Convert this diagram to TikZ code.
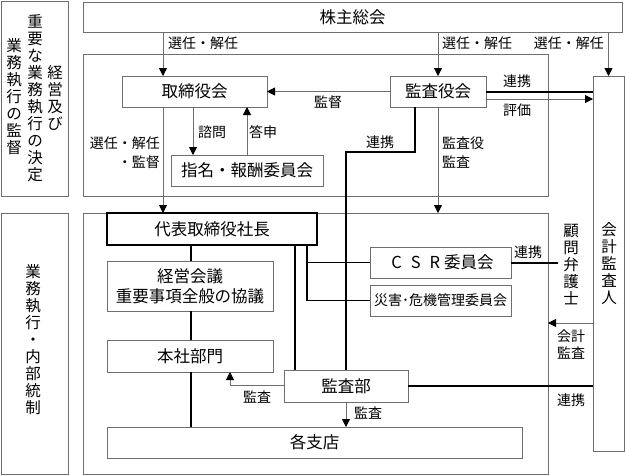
\documentclass[tikz,border=0pt]{standalone}
\usepackage{fontspec}
\setmainfont{Noto Sans CJK JP}
\usetikzlibrary{arrows.meta,calc}
\definecolor{lg}{RGB}{110,110,110}
\begin{document}
\begin{tikzpicture}[x=1pt,y=-1pt,
  ln/.style={draw=lg, line width=0.8pt},
  grp/.style={ln, inner sep=0pt, outer sep=0pt},
  box/.style={ln, inner sep=0pt, outer sep=0pt, fill=white, align=center, font=\fontsize{16.5}{20}\selectfont},
  tbox/.style={box, draw=black, line width=1.8pt},
  lbl/.style={inner sep=0pt, font=\fontsize{14}{19}\selectfont},
  vt/.style={inner sep=0pt, align=center, font=\fontsize{15.5}{17}\selectfont},
  arr/.style={ln, -{Triangle[length=8pt,width=8pt,black]}},
  thk/.style={draw=black, line width=2pt},
  med/.style={draw=black, line width=1.6pt}]
\useasboundingbox (0,0) rectangle (625,475);
% coordinates
\foreach \n/\v in {163/163,193/193,247/247,415/415,346/346,191/191,295/295,307/307,230/230,558/558}
  \coordinate (x\n) at (\v,0);
\foreach \n/\v in {99/99,152/152,385/385,323/323}
  \coordinate (y\n) at (0,\v);
% side label boxes
\node[grp, minimum width=67pt, minimum height=195pt] (leftA) at (34.5,98.5) {};
\node[grp, minimum width=67pt, minimum height=261pt] (leftB) at (34.5,343.5) {};
\node[vt] (t1) at (55,98) {経\\営\\及\\び};
\node[vt] (t2) at (35,98) {重\\要\\な\\業\\務\\執\\行\\の\\決\\定};
\node[vt] (t3) at (14,97) {業\\務\\執\\行\\の\\監\\督};
\node[vt] (t4) at (33,340) {業\\務\\執\\行\\・\\内\\部\\統\\制};
% group boxes
\node[grp, minimum width=465pt, minimum height=142pt] (g1) at (315.5,125) {};
\node[grp, minimum width=465pt, minimum height=261pt] (g2) at (315.5,343.5) {};
% boxes
\node[box, minimum width=539pt, minimum height=30pt] (sh) at (352.5,17) {株主総会};
\node[box, minimum width=145pt, minimum height=31pt] (tori) at (194.5,91.5) {取締役会};
\node[box, minimum width=96pt, minimum height=31pt] (kansa) at (438,91.5) {監査役会};
\node[box, minimum width=152pt, minimum height=31pt] (shimei) at (247,170.5) {指名・報酬委員会};
\node[box, minimum width=31pt, minimum height=375pt] (kaikei) at (608.5,263.5) {};
\node[vt] (t5) at (609,264) {会\\計\\監\\査\\人};
\node[vt] (t6) at (571,265) {顧\\問\\弁\\護\\士};
\node[tbox, minimum width=210pt, minimum height=32pt] (daihyo) at (212,229) {代表取締役社長};
\node[box, minimum width=166pt, minimum height=50pt] (keiei) at (190,286) {経営会議\\重要事項全般の協議};
\node[box, minimum width=166pt, minimum height=32pt] (honsha) at (190,356) {本社部門};
\node[box, minimum width=415pt, minimum height=31pt] (kaku) at (314.5,442.5) {各支店};
\node[box, minimum width=124pt, minimum height=32pt] (kansabu) at (346,386) {監査部};
\node[box, minimum width=141pt, minimum height=31pt] (csr) at (440.5,262.5) {\makebox[19pt]{C}\makebox[19pt]{S}\makebox[19pt]{R}委員会};
\node[box, minimum width=141pt, minimum height=31pt, font=\fontsize{14}{17}\selectfont] (saigai) at (440.5,300.5) {災害･危機管理委員会};
% connectors
\draw[arr] (x163 |- sh.south) -- (x163 |- tori.north);
\node[lbl, anchor=west] (l1) at (168,43) {選任・解任};
\draw[arr] (kansa.north |- sh.south) -- (kansa.north);
\node[lbl, anchor=west] (l2) at (442,43) {選任・解任};
\draw[arr] (kaikei.north |- sh.south) -- (kaikei.north);
\node[lbl, anchor=east] (l3) at (604,43) {選任・解任};
\draw[arr] (kansa.west) -- (tori.east);
\node[lbl] (l4) at (328,102) {監督};
\draw[thk] (kansa.east) -- (kansa.east -| kaikei.west);
\node[lbl] (l5) at (517,81) {連携};
\draw[arr] (kansa.east |- y99) -- (kaikei.west |- y99);
\node[lbl] (l6) at (517,110) {評価};
\draw[arr] (x193 |- tori.south) -- (x193 |- shimei.north);
\node[lbl] (l7) at (212,132) {諮問};
\draw[arr] (x247 |- shimei.north) -- (x247 |- tori.south);
\node[lbl] (l8) at (263,132) {答申};
\draw[arr] (x163 |- tori.south) -- (x163 |- daihyo.north);
\node[lbl, anchor=east, align=right] (l9) at (160,153) {選任・解任\\・監督};
\draw[thk] (x415 |- kansa.south) |- (x346 |- y152) -- (x346 |- kansabu.north);
\node[lbl] (l10) at (380,142) {連携};
\draw[arr] (kansa.south) -- (kansa.south |- g2.north);
\node[lbl, anchor=west, align=left] (l11) at (442,153) {監査役\\監査};
\draw[med] (x191 |- daihyo.south) -- (x191 |- keiei.north);
\draw[med] (x191 |- keiei.south) -- (x191 |- honsha.north);
\draw[med] (x191 |- honsha.south) -- (x191 |- kaku.north);
\draw[med] (x295 |- daihyo.south) -- (x295 |- kansabu.north);
\draw[med] (x307 |- daihyo.south) |- (saigai.west);
\draw[med] (x307 |- csr.west) -- (csr.west);
\draw[arr] (kansabu.west |- y385) -| (x230 |- honsha.south);
\node[lbl] (l12) at (257,397) {監査};
\draw[arr] (x346 |- kansabu.south) -- (x346 |- kaku.north);
\node[lbl, anchor=west] (l13) at (354,413) {監査};
\draw[thk] (kansabu.east) -- (kansabu.east -| kaikei.west);
\node[lbl] (l14) at (571,400) {連携};
\draw[thk] (csr.east) -- (x558 |- csr.east);
\node[lbl] (l15) at (528,252) {連携};
\draw[arr] (kaikei.west |- y323) -- (g2.east |- y323);
\node[lbl, align=center, font=\fontsize{14}{17}\selectfont] (l16) at (571,345) {会計\\監査};
\end{tikzpicture}
\end{document}
